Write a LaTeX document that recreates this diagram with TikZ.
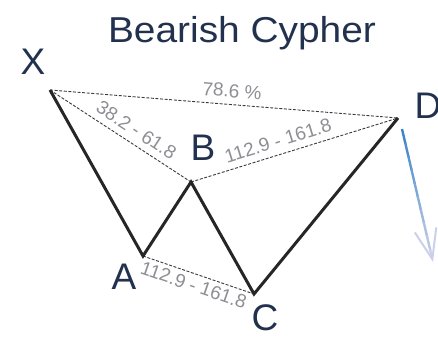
\documentclass[tikz,border=0pt]{standalone}
\usepackage{fontspec}
\setmainfont{Liberation Sans}
\usepackage{tikz}
\usetikzlibrary{arrows.meta,calc}
\definecolor{titlenavy}{HTML}{22324E}
\definecolor{ratiogray}{HTML}{8E8E94}
\definecolor{dashgray}{HTML}{3A3A3A}
\definecolor{arrowblue}{HTML}{3F86C8}
\definecolor{arrowpale}{HTML}{CDD0EA}

\begin{document}
\begin{tikzpicture}[x=1pt,y=-1pt,
    leg/.style={black!85, line width=3pt, line join=miter},
    ratio line/.style={dashgray, line width=0.9pt, dash pattern=on 3pt off 1.6pt},
    ratio/.style={ratiogray, font=\fontsize{19}{19}\selectfont, inner sep=6.5pt},
    pt label/.style={titlenavy, font=\fontsize{37}{37}\selectfont, inner sep=0pt}]
    \useasboundingbox (0,0) rectangle (438,338);

    % Title
    \node[titlenavy, font=\fontsize{36}{36}\selectfont, xscale=1.08, anchor=base] (title) at (242,42) {Bearish Cypher};

    % Pivot points
    \coordinate (X) at (50,90);
    \coordinate (A) at (143,256);
    \coordinate (B) at (191,182);
    \coordinate (C) at (254,294);
    \coordinate (D) at (398,118);

    % Ratio lines
    \draw[ratio line] (X) -- node[ratio, sloped, above, pos=0.52] {78.6 \%} (D);
    \draw[ratio line] (X) -- node[ratio, sloped, above, pos=0.56] {38.2 - 61.8} (B);
    \draw[ratio line] (B) -- node[ratio, sloped, above, pos=0.44] {112.9 - 161.8} (D);
    \draw[ratio line] (A) -- node[ratio, sloped, below, pos=0.49, inner sep=4pt] {112.9 - 161.8} (C);

    % Legs
    \draw[leg] (X) -- (A) -- (B) -- (C) -- (D);

    % Point labels
    \node[pt label] (lX) at (33,62) {X};
    \node[pt label] (lA) at (124,277) {A};
    \node[pt label] (lB) at (203,148) {B};
    \node[pt label] (lC) at (265,318) {C};
    \node[pt label] (lD) at (428,106) {D};

    % Expected move after D
    \coordinate (Ds) at (402,129);
    \coordinate (T) at (433,262);
    \foreach \i in {0,...,8} {
        \pgfmathtruncatemacro\shadeval{100-\i*11}
        \draw[arrowblue!\shadeval!arrowpale, line width=2.4pt] ($(Ds)!\i/10!(T)$) -- ($(Ds)!\i/10+0.11!(T)$);
    }
    \draw[-{Straight Barb[length=30pt,width=22pt,line width=2pt]}, arrowpale, line width=2.4pt] ($(Ds)!0.9!(T)$) -- (T);
\end{tikzpicture}
\end{document}
